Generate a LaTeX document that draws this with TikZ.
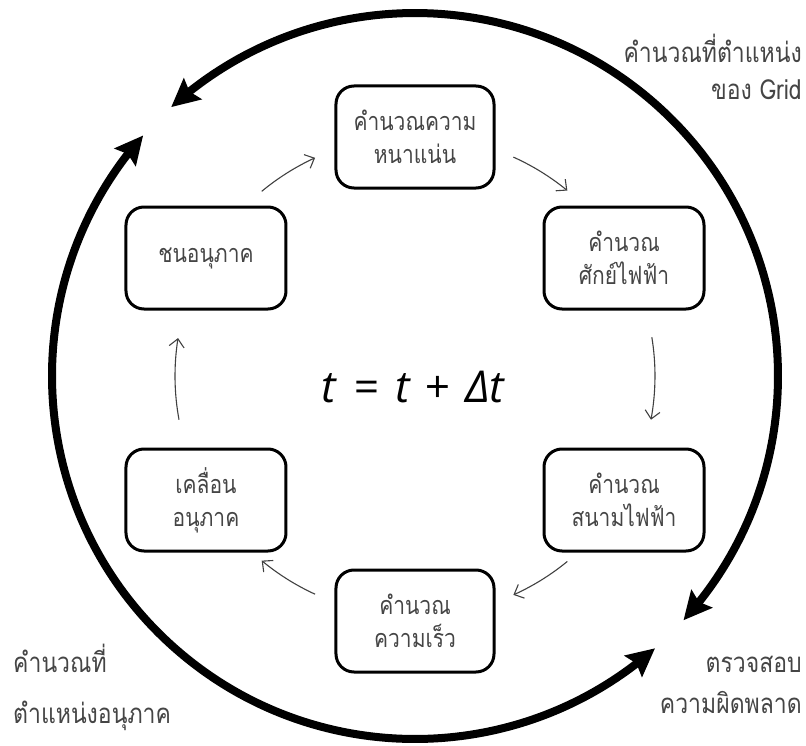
\documentclass[tikz,border=0pt]{standalone}
\usepackage{fontspec}
\usepackage{graphicx}
\newfontfamily\thaifont[Script=Thai]{Loma}
\newfontfamily\eqfont{Open Sans}
\newcommand\tht[1]{\scalebox{1}[1.2]{#1}}
\usetikzlibrary{arrows.meta,bending}
\definecolor{txt}{HTML}{454545}
\begin{document}
\begin{tikzpicture}[x=1pt,y=1pt,
  box/.style={draw, line width=3pt, rounded corners=18pt, minimum width=158pt, minimum height=102pt, align=center, font=\thaifont\fontsize{21}{33}\selectfont, text=txt, inner sep=0pt},
  sidebox/.style={box, minimum width=160pt},
  big/.style={line width=8pt, {Stealth[length=28pt,width=27pt,inset=4pt]}-{Stealth[length=28pt,width=27pt,inset=4pt]}},
  thinarr/.style={line width=1.1pt, draw=black!75, -{Straight Barb[length=8pt,width=15pt]}},
  lbl/.style={font=\thaifont\fontsize{23}{30}\selectfont, text=txt, inner sep=0pt}
]
\useasboundingbox (-415,-369) rectangle (391,376);
% boxes
\node[box] (b1) at (0,239) {\tht{คำนวณความ}\\\tht{หนาแน่น}};
\node[sidebox] (b2) at (209,118) {\tht{คำนวณ}\\\tht{ศักย์ไฟฟ้า}};
\node[sidebox] (b3) at (209,-124) {\tht{คำนวณ}\\\tht{สนามไฟฟ้า}};
\node[box] (b4) at (0,-245) {\tht{คำนวณ}\\\tht{ความเร็ว}};
\node[sidebox] (b5) at (-209,-124) {\tht{เคลื่อน}\\\tht{อนุภาค}};
\node[sidebox] (b6) at (-209,118) {\tht{ชนอนุภาค}};
% centre formula
\node[anchor=base, inner sep=0pt, font=\eqfont\itshape\fontsize{44}{46}\selectfont] (eq) at (-2,-26) {t\hspace{17pt}=\hspace{17pt}t\hspace{15pt}+\hspace{15pt}Δt};
% thin cycle arrows
\coordinate (s1) at (129.7:240);
\coordinate (s2) at (65.8:240);
\coordinate (s3) at (9.3:240);
\coordinate (s4) at (-50.6:240);
\coordinate (s5) at (-114.6:240);
\coordinate (s6) at (190.5:240);
\draw[thinarr] (s1) arc[start angle=129.7, end angle=114.6, radius=240];
\draw[thinarr] (s2) arc[start angle=65.8, end angle=50.6, radius=240];
\draw[thinarr] (s3) arc[start angle=9.3, end angle=-10.5, radius=240];
\draw[thinarr] (s4) arc[start angle=-50.6, end angle=-65.8, radius=240];
\draw[thinarr] (s5) arc[start angle=-114.6, end angle=-129.7, radius=240];
\draw[thinarr] (s6) arc[start angle=190.5, end angle=170.9, radius=240];
% big arcs
\coordinate (g1) at (-42.3:363);
\coordinate (p1) at (138.5:363);
\draw[big] (g1) arc[start angle=-42.3, end angle=132.2, radius=363];
\draw[big] (p1) arc[start angle=138.5, end angle=311.4, radius=363];
% outer labels
\node[lbl, anchor=base east] (l1) at (387,313) {\tht{คำนวณที่ตำแหน่ง}};
\node[lbl, anchor=base east] (l2) at (387,276) {\tht{ของ Grid}};
\node[lbl, anchor=base west] (l3) at (-402,-296) {\tht{คำนวณที่}};
\node[lbl, anchor=base west] (l4) at (-402,-347) {\tht{ตำแหน่งอนุภาค}};
\node[lbl, anchor=base east] (l5) at (387,-296) {\tht{ตรวจสอบ}};
\node[lbl, anchor=base east] (l6) at (387,-337) {\tht{ความผิดพลาด}};
\end{tikzpicture}
\end{document}
